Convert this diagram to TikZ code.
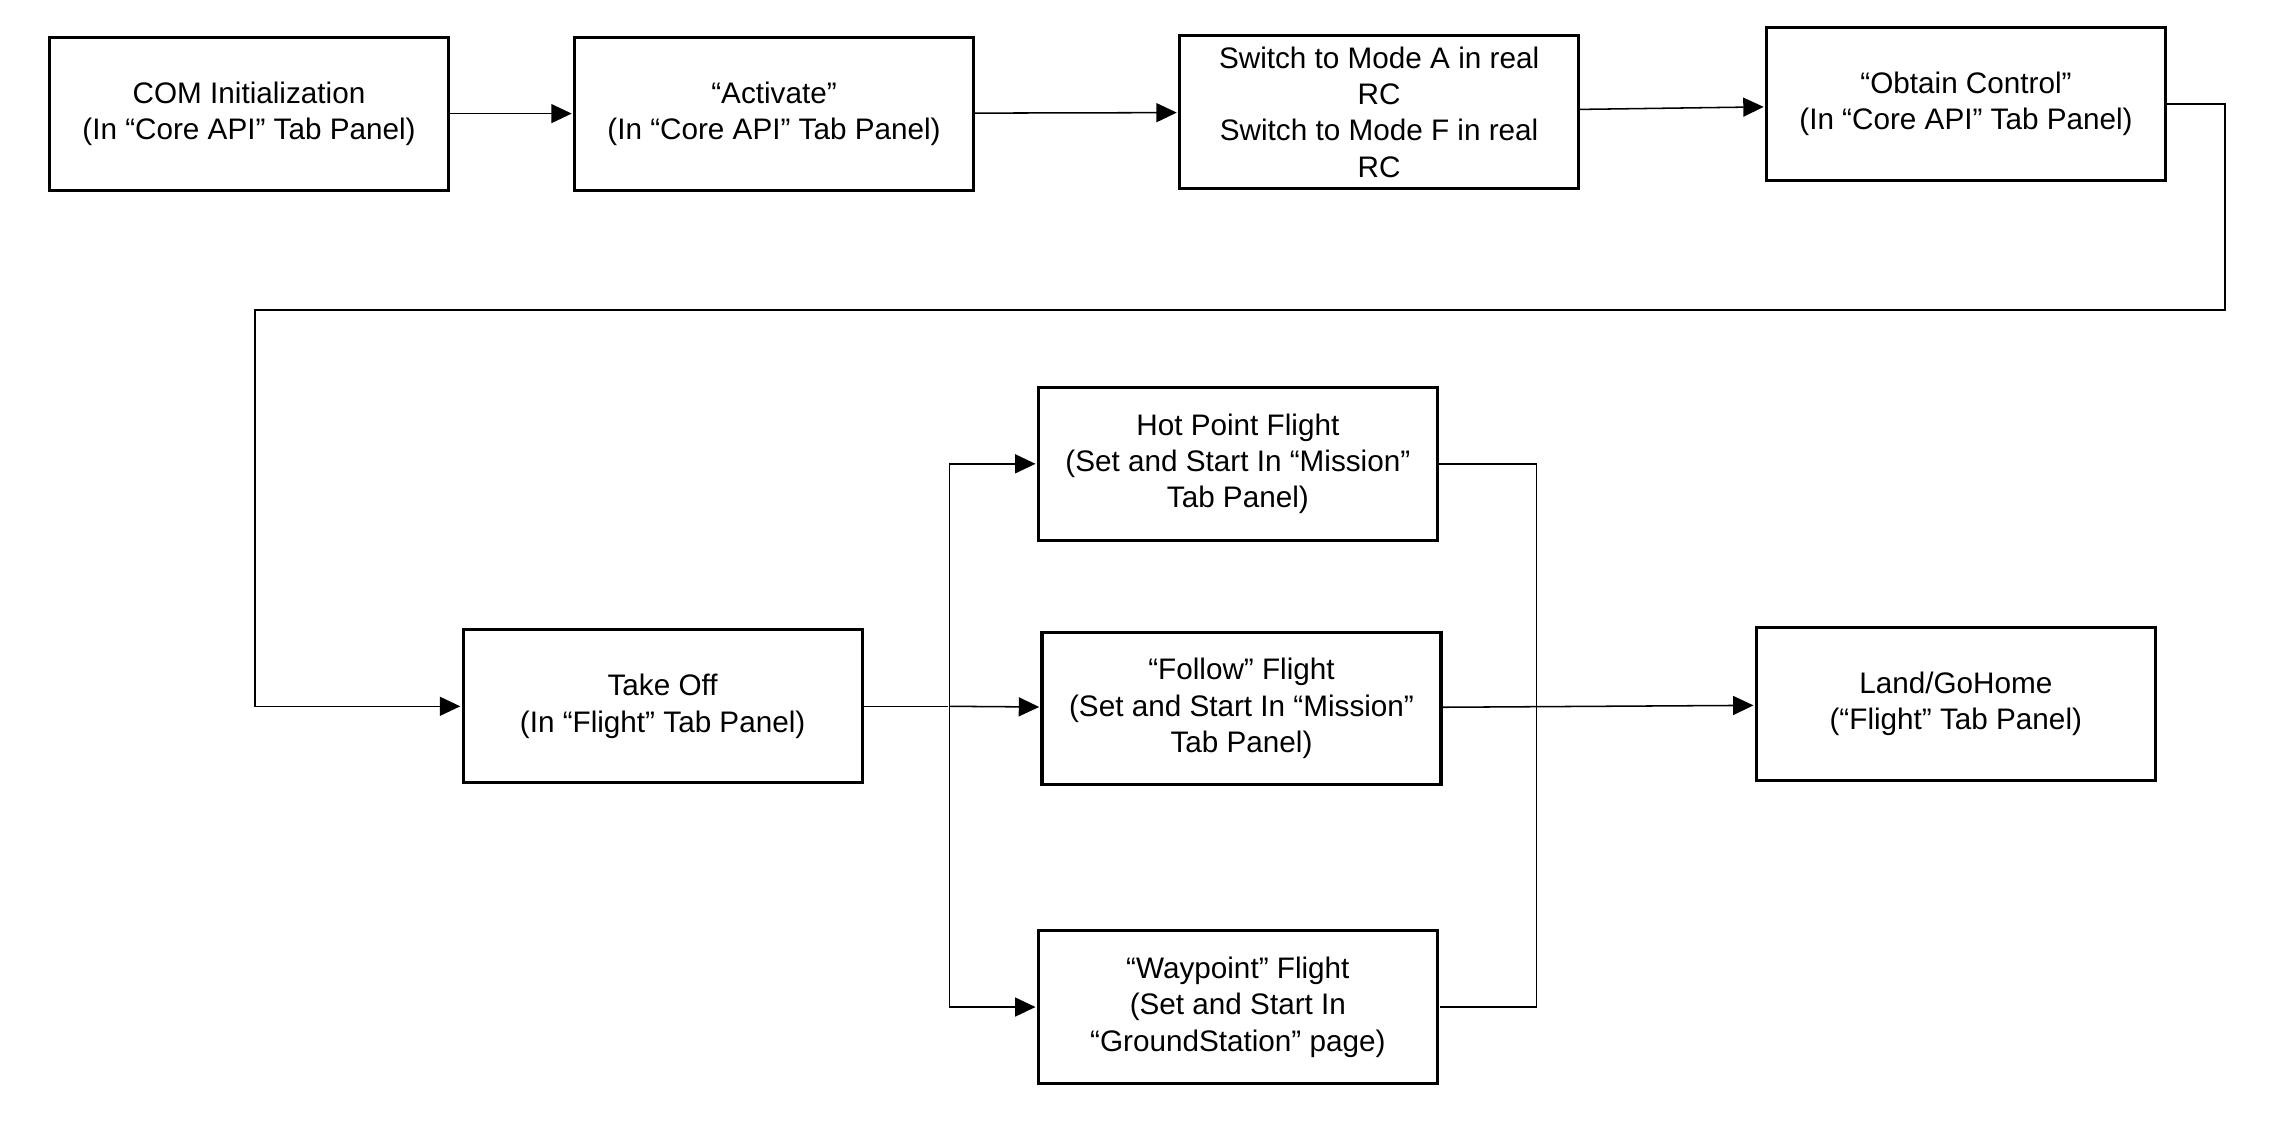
\documentclass[tikz,border=0pt]{standalone}
\usepackage{fontspec}
\setmainfont{Liberation Sans}
\usetikzlibrary{positioning, arrows.meta}

\begin{document}
\begin{tikzpicture}[x=0.2mm, y=-0.2mm, >={Triangle[length=2.8mm, width=2.6mm]}, shorten >=0.5pt,
  stepbox/.style={draw, line width=1.2pt, minimum width=54.8mm, minimum height=21mm,
    inner sep=0pt, align=center, font=\fontsize{11.6}{14.2}\selectfont},
  link/.style={line width=0.6pt}]
  \useasboundingbox (0,0) rectangle (1567,773.9);

  % top row
  \node[stepbox] (com) at (171,78) {COM Initialization\\(In “Core API” Tab Panel)};
  \node[stepbox] (activate) at (531.5,78) {“Activate”\\(In “Core API” Tab Panel)};
  \node[stepbox] (switch) at (947,77) {Switch to Mode A in real\\RC\\Switch to Mode F in real\\RC};
  \node[stepbox] (obtain) at (1350,71.5) {“Obtain Control”\\(In “Core API” Tab Panel)};

  % flight steps
  \node[stepbox] (takeoff) at (455,485) {Take Off\\(In “Flight” Tab Panel)};
  \node[stepbox] (hotpoint) at (850,318.5) {Hot Point Flight\\(Set and Start In “Mission”\\Tab Panel)};
  \node[stepbox] (follow) at (852.5,486.5) {“Follow” Flight\\(Set and Start In “Mission”\\Tab Panel)};
  \node[stepbox] (waypoint) at (850,691.5) {“Waypoint” Flight\\(Set and Start In\\“GroundStation” page)};
  \node[stepbox] (land) at (1343,483.5) {Land/GoHome\\(“Flight” Tab Panel)};

  \coordinate (bendR) at (1528,213);
  \coordinate (bendL) at (175,213);
  \coordinate (split) at (652,485);
  \coordinate (merge) at (1055,318.5);

  \path[link, ->] (com) edge (activate)
        (activate) edge (switch)
        (switch) edge (obtain)
        (split) edge (follow)
        (follow) edge (land);

  \draw[link, ->] (obtain.east) -| (bendR) -- (bendL) |- (takeoff.west);
  \draw[link] (takeoff.east) -- (split);
  \draw[link, ->] (split) |- (hotpoint.west);
  \draw[link, ->] (split) |- (waypoint.west);
  \draw[link] (hotpoint.east) -- (merge) |- (waypoint.east);
\end{tikzpicture}
\end{document}
